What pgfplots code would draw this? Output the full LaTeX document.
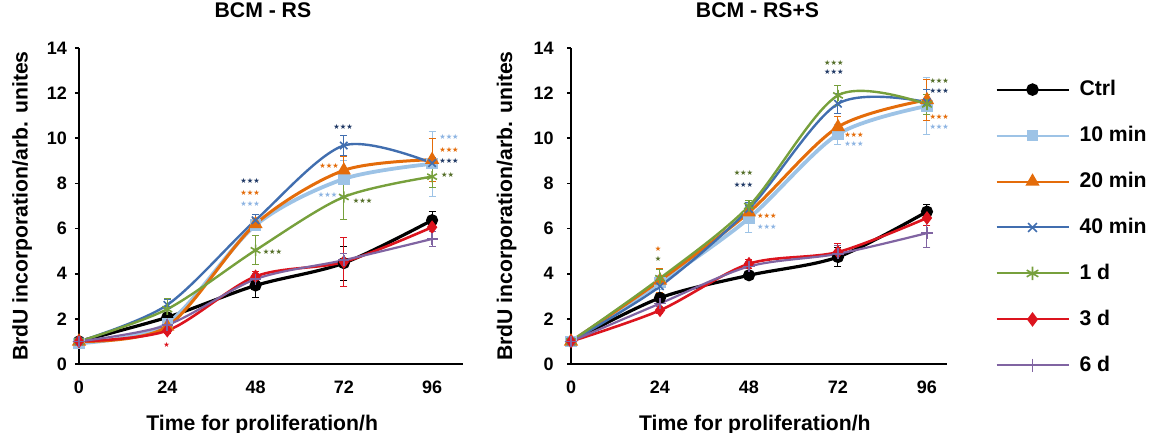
\documentclass[border=0pt]{standalone}
\usepackage{fontspec}
\setmainfont{Liberation Sans}
\newfontfamily\symfont{DejaVu Sans}
\usepackage{pgfplots}
\usepackage{pgfplotstable}
\pgfplotsset{compat=1.18}

\definecolor{cten}{RGB}{157,195,230}
\definecolor{ctwenty}{RGB}{228,108,10}
\definecolor{cforty}{RGB}{65,110,175}
\definecolor{cday}{RGB}{119,160,60}
\definecolor{cthree}{RGB}{220,20,30}
\definecolor{csix}{RGB}{128,100,162}
\definecolor{sforty}{RGB}{31,56,100}
\definecolor{sday}{RGB}{84,110,40}
\definecolor{sten}{RGB}{141,180,226}

% BCM - RS
\pgfplotstableread{
t  ctrl ctrlE m10  m10E m20  m20E m40  m40E d1   d1E  d3   d3E  d6   d6E
0  1.00 0.05  0.92 0.05 1.00 0.05 1.00 0.05 1.00 0.05 1.00 0.05 1.00 0.05
24 2.07 0.15  1.80 0.20 1.66 0.20 2.62 0.25 2.43 0.45 1.48 0.15 1.73 0.15
48 3.48 0.55  6.15 0.25 6.20 0.25 6.37 0.25 5.04 0.65 3.88 0.20 3.76 0.25
72 4.47 0.75  8.20 0.80 8.58 0.60 9.68 0.45 7.40 1.00 4.52 1.10 4.60 0.30
96 6.37 0.38  8.87 1.43 9.05 0.95 8.90 0.25 8.30 0.50 6.06 0.20 5.54 0.32
}\rs

% BCM - RS+S
\pgfplotstableread{
t  ctrl ctrlE m10   m10E m20   m20E m40   m40E d1    d1E  d3   d3E  d6   d6E
0  1.00 0.05  1.00  0.05 1.00  0.05 1.00  0.05 1.00  0.05 1.00 0.05 1.00 0.05
24 2.93 0.15  3.60  0.30 3.70  0.55 3.44  0.30 3.80  0.40 2.38 0.15 2.68 0.15
48 3.93 0.15  6.46  0.65 6.72  0.30 6.87  0.30 7.00  0.25 4.44 0.20 4.32 0.20
72 4.74 0.40  10.18 0.45 10.50 0.45 11.53 0.45 11.90 0.45 4.96 0.40 4.88 0.35
96 6.75 0.30  11.43 1.25 11.70 0.90 11.60 0.55 11.50 0.45 6.47 0.35 5.80 0.65
}\rss

\pgfplotsset{
  brd/.style={
    scale only axis, height=158pt, xmin=0, ymin=0, ymax=14,
    axis x line*=bottom, axis y line*=left,
    axis line style={line width=1pt, -},
    xtick={0,24,48,72,96}, ytick={0,2,...,14},
    tick align=outside, major tick length=2pt,
    x tick style={draw=none}, y tick style={line width=0.8pt, black},
    /pgf/number format/assume math mode=true,
    ticklabel style={font=\fontsize{9}{10}\selectfont\bfseries},
    xticklabel style={anchor=base, yshift=-12.6pt},
    label style={font=\fontsize{10.6}{12}\selectfont\bfseries},
    title style={font=\fontsize{10.6}{12}\selectfont\bfseries, anchor=base},
    ylabel={BrdU incorporation/arb. unites},
    xlabel={Time for proliferation/h},
    clip=false,
    error bars/y dir=both, error bars/y explicit,
    error bars/error bar style={line width=0.5pt, solid},
    error bars/error mark options={rotate=90, mark size=1.75pt, line width=0.5pt},
    every axis plot/.append style={smooth},
  },
  pctrl/.style={black, line width=1.6pt, mark=*, mark size=2.2pt},
  pten/.style={cten, line width=1.9pt, mark=square*, mark size=1.9pt},
  ptwenty/.style={ctwenty, line width=1.5pt, mark=triangle*, mark size=2.6pt},
  pforty/.style={cforty, line width=1.2pt, mark=x, mark size=2.6pt, mark options={line width=0.8pt}},
  pday/.style={cday, line width=1.2pt, mark=asterisk, mark size=2.8pt, mark options={line width=0.8pt}},
  pthree/.style={cthree, line width=1.3pt, mark=diamond*, mark size=2.4pt},
  psix/.style={csix, line width=1.1pt, mark=+, mark size=2.8pt, mark options={line width=0.8pt}},
}
\tikzset{st/.style={font=\fontsize{3.6}{4}\selectfont\symfont, inner sep=0pt}}

\begin{document}
\begin{tikzpicture}
\useasboundingbox (0,0) rectangle (575.5pt,-216.5pt);

\begin{axis}[brd, at={(39.5pt,-182pt)}, anchor=south west, width=192pt, xmax=104.4,
  title={BCM - RS}, title style={at={(axis description cs:0.479,1.057)}},
  xlabel style={at={(axis description cs:0.477,-0.209)}, anchor=base},
  ylabel style={at={(axis description cs:-0.148,0.5)}, anchor=center},
  yticklabel style={anchor=east, inner sep=0pt, xshift=-3.8pt}]
\addplot[pctrl] table[x=t, y=ctrl, y error=ctrlE] {\rs};
\addplot[pten] table[x=t, y=m10, y error=m10E] {\rs};
\addplot[ptwenty] table[x=t, y=m20, y error=m20E] {\rs};
\addplot[pforty] table[x=t, y=m40, y error=m40E] {\rs};
\addplot[pday] table[x=t, y=d1, y error=d1E] {\rs};
\addplot[pthree] table[x=t, y=d3, y error=d3E] {\rs};
\addplot[psix] table[x=t, y=d6, y error=d6E] {\rs};
\node[st, sforty] at (axis cs:46.5,8.12) {★★★};
\node[st, ctwenty] at (axis cs:46.5,7.59) {★★★};
\node[st, sten] at (axis cs:46.5,7.09) {★★★};
\node[st, sday] at (axis cs:52.6,4.98) {★★★};
\node[st, sforty] at (axis cs:71.8,10.5) {★★★};
\node[st, ctwenty] at (axis cs:68,8.77) {★★★};
\node[st, sten] at (axis cs:67.6,7.49) {★★★};
\node[st, sday] at (axis cs:77.1,7.22) {★★★};
\node[st, sten] at (axis cs:100.6,10.04) {★★★};
\node[st, ctwenty] at (axis cs:100.6,9.5) {★★★};
\node[st, sforty] at (axis cs:100.6,8.98) {★★★};
\node[st, sday] at (axis cs:100.2,8.39) {★★};
\node[st, cthree] at (axis cs:23.8,0.84) {★};
\end{axis}

\begin{axis}[brd, at={(285.5pt,-182pt)}, anchor=south west, width=188pt, xmax=101.4,
  title={BCM - RS+S}, title style={at={(axis description cs:0.496,1.057)}},
  xlabel style={at={(axis description cs:0.489,-0.209)}, anchor=base},
  ylabel style={at={(axis description cs:-0.171,0.5)}, anchor=center},
  yticklabel style={anchor=east, inner sep=0pt, xshift=-6.5pt},
  legend style={at={(axis description cs:1.112,0.924)}, anchor=north west,
    draw=none, fill=none, font=\fontsize{10.6}{12}\selectfont\bfseries,
    row sep=9.8pt, column sep=3pt, cells={anchor=west}},
  legend image code/.code={\draw[mark repeat=2, mark phase=2, #1, line width=1pt,
    every mark/.append style={scale=1.2}] plot coordinates {(0pt,0pt) (18pt,0pt) (36pt,0pt)};}]
\addplot[pctrl] table[x=t, y=ctrl, y error=ctrlE] {\rss};
\addplot[pten] table[x=t, y=m10, y error=m10E] {\rss};
\addplot[ptwenty] table[x=t, y=m20, y error=m20E] {\rss};
\addplot[pforty] table[x=t, y=m40, y error=m40E] {\rss};
\addplot[pday] table[x=t, y=d1, y error=d1E] {\rss};
\addplot[pthree] table[x=t, y=d3, y error=d3E] {\rss};
\addplot[psix] table[x=t, y=d6, y error=d6E] {\rss};
\legend{Ctrl, 10 min, 20 min, 40 min, 1 d, 3 d, 6 d}
\node[st, ctwenty] at (axis cs:23.5,5.12) {★};
\node[st, sday] at (axis cs:23.5,4.64) {★};
\node[st, sday] at (axis cs:46.5,8.45) {★★★};
\node[st, sforty] at (axis cs:46.5,7.93) {★★★};
\node[st, ctwenty] at (axis cs:52.8,6.56) {★★★};
\node[st, sten] at (axis cs:52.8,6.08) {★★★};
\node[st, sday] at (axis cs:70.9,13.35) {★★★};
\node[st, sforty] at (axis cs:70.9,12.92) {★★★};
\node[st, ctwenty] at (axis cs:76.3,10.15) {★★★};
\node[st, sten] at (axis cs:76.3,9.73) {★★★};
\node[st, sday] at (axis cs:99.3,12.54) {★★★};
\node[st, sforty] at (axis cs:99.3,12.1) {★★★};
\node[st, ctwenty] at (axis cs:99.3,10.96) {★★★};
\node[st, sten] at (axis cs:99.3,10.49) {★★★};
\end{axis}
\end{tikzpicture}
\end{document}
